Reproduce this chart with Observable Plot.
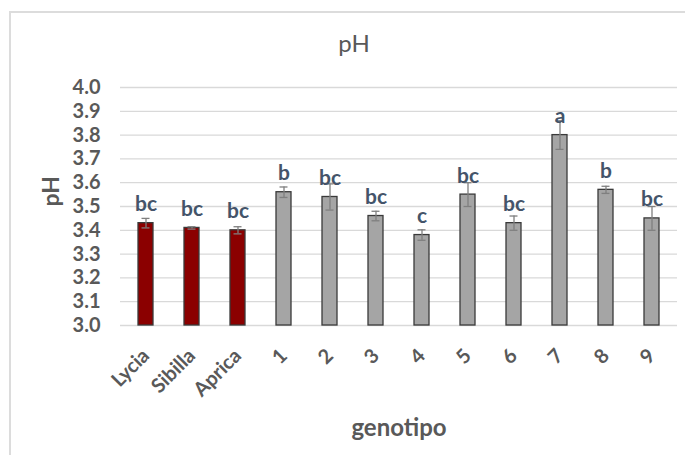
<!DOCTYPE html>
<html><head><meta charset="utf-8">
<script src="https://cdn.jsdelivr.net/npm/d3@7"></script>
<script src="https://cdn.jsdelivr.net/npm/@observablehq/plot@0.6"></script>
<style>
body{margin:0;background:#fff;font-family:Lato,"Open Sans",sans-serif;}
#wrap{position:relative;width:685px;height:455px;overflow:hidden;background:#fff;}
#frame{position:absolute;left:9px;top:11px;width:700px;height:460px;border-top:2px solid #dcdcdc;border-left:2px solid #dcdcdc;}
#title{position:absolute;left:0;width:708px;top:28px;text-align:center;font-size:24px;color:#595959;font-family:Lato,sans-serif;}
#chart{position:absolute;left:0;top:60px;}
</style></head>
<body>
<div id="wrap">
  <div id="frame"></div>
  <div id="title">pH</div>
  <div id="chart"></div>
</div>
<script>
const genotypes = ["Lycia","Sibilla","Aprica","1","2","3","4","5","6","7","8","9"];
const groups = ["check","check","check","line","line","line","line","line","line","line","line","line"];
const pHmeans = [3.43,3.41,3.40,3.56,3.54,3.46,3.38,3.55,3.43,3.80,3.57,3.45];
const pHerrors = [0.02,0.005,0.015,0.022,0.055,0.02,0.022,0.05,0.03,0.06,0.015,0.05];
const letters = ["bc","bc","bc","b","bc","bc","c","bc","bc","a","b","bc"];
const yTicks = [3.0,3.1,3.2,3.3,3.4,3.5,3.6,3.7,3.8,3.9,4.0];

const data = genotypes.map((g,i)=>({g, mean:pHmeans[i], err:pHerrors[i], letter:letters[i], grp:groups[i]}));
const groupColors = {check:"#8b0000", line:"#a5a5a5"};

const chart = Plot.plot({
  width:685, height:395,
  marginLeft:120, marginRight:8, marginTop:27, marginBottom:130,
  style:{fontFamily:"Lato, sans-serif", color:"#595959", background:"transparent", overflow:"visible"},
  x:{domain:genotypes, paddingInner:0.67, paddingOuter:0.335, label:null, axis:null},
  y:{domain:[3,4], label:null, axis:null},
  marks:[
    Plot.gridY(yTicks,{stroke:"#d9d9d9", strokeOpacity:1, strokeWidth:1.3}),
    Plot.barY(data,{x:"g", y1:3, y2:"mean", fill:d=>groupColors[d.grp], stroke:"#3a3a3a", strokeWidth:1.3}),
    Plot.ruleX(data,{x:"g", y1:d=>d.mean-d.err, y2:d=>d.mean+d.err, stroke:"#7f7f7f", strokeWidth:1.3}),
    Plot.tickY(data,{x:"g", y:d=>d.mean+d.err, inset:3.5, stroke:"#7f7f7f", strokeWidth:1.3}),
    Plot.tickY(data,{x:"g", y:d=>d.mean-d.err, inset:3.5, stroke:"#7f7f7f", strokeWidth:1.3}),
    Plot.text(data,{x:"g", y:"mean", text:"letter", lineAnchor:"bottom", dy:-12, fill:"#44546a", fontSize:21, fontWeight:"bold"}),
    Plot.axisY(yTicks,{tickSize:0, tickPadding:20, tickFormat:d3.format(".1f"), fontSize:20, fontWeight:"bold", label:null}),
    Plot.axisX({tickSize:0, tickRotate:-45, tickPadding:27, dx:0, fontSize:20, fontWeight:"bold", label:null}),
    Plot.text(["pH"],{frameAnchor:"left", dx:-69, rotate:-90, fontSize:23, fontWeight:"bold", fill:"#595959"}),
    Plot.text(["genotipo"],{frameAnchor:"bottom", dy:103, lineAnchor:"middle", fontSize:24, fontWeight:"bold", fill:"#595959"})
  ]
});
document.getElementById("chart").appendChild(chart);
</script>
</body></html>
